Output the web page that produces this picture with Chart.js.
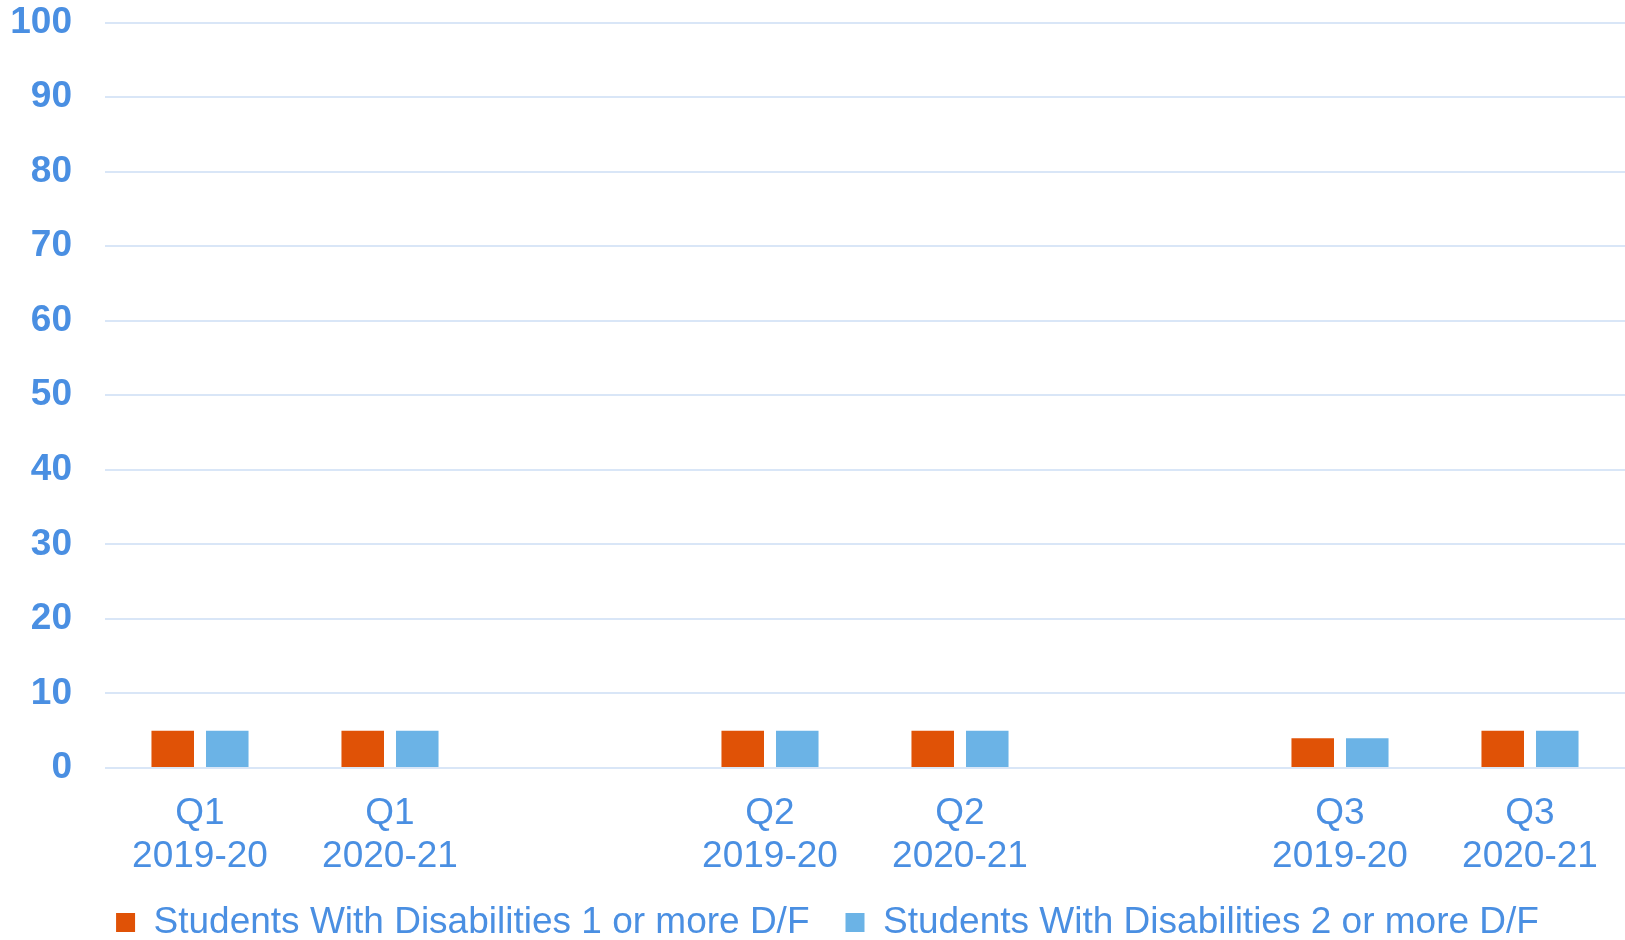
<!DOCTYPE html>
<html>
<head>
<meta charset="utf-8">
<script src="https://cdn.jsdelivr.net/npm/chart.js@4.4.1/dist/chart.umd.min.js"></script>
<style>
  html, body { margin: 0; padding: 0; background: #fff; }
  #wrap { width: 1625px; height: 940px; position: relative; }
</style>
</head>
<body>
<div id="wrap"><canvas id="barChart"></canvas></div>
<script>
// Categories (empty slots are the gaps between quarters)
const categories = [
    ["Q1", "2019-20"], ["Q1", "2020-21"], "",
    ["Q2", "2019-20"], ["Q2", "2020-21"], "",
    ["Q3", "2019-20"], ["Q3", "2020-21"]
];
const oneOrMore = [5, 5, null, 5, 5, null, 4, 5];
const twoOrMore = [5, 5, null, 5, 5, null, 4, 5];
const seriesNames = [
    "Students With Disabilities 1 or more D/F",
    "Students With Disabilities 2 or more D/F"
];

const textBlue = "#4A8FE2";
const fontFamily = "'Liberation Sans', Arial, sans-serif";

// nudge the legend into place after layout
const legendShift = {
    id: "legendShift",
    afterLayout(chart) {
        const lg = chart.legend;
        if (!lg) return;
        lg.left += 10; lg.right += 10;
        lg.top -= 12; lg.bottom -= 12;
    },
};

const ctx = document.getElementById("barChart").getContext("2d");
new Chart(ctx, {
    type: "bar",
    data: {
        labels: categories,
        datasets: [
            {
                label: seriesNames[0],
                data: oneOrMore,
                backgroundColor: "#E05206",
                categoryPercentage: 0.574,
                barPercentage: 0.78,
            },
            {
                label: seriesNames[1],
                data: twoOrMore,
                backgroundColor: "#6BB3E6",
                categoryPercentage: 0.574,
                barPercentage: 0.78,
            },
        ],
    },
    options: {
        responsive: true,
        maintainAspectRatio: false,
        animation: false,
        layout: { padding: { left: 10, right: 0, top: 0, bottom: -23 } },
        plugins: {
            tooltip: { enabled: false },
            legend: {
                position: "bottom",
                labels: {
                    color: textBlue,
                    boxWidth: 19,
                    boxHeight: 19,
                    padding: 36,
                    font: { family: fontFamily, size: 37 },
                },
            },
        },
        scales: {
            x: {
                grid: { display: false },
                border: { display: false },
                ticks: {
                    color: textBlue,
                    padding: 16,
                    maxRotation: 0,
                    autoSkip: false,
                    font: { family: fontFamily, size: 37, lineHeight: 1.17 },
                },
                afterFit: (scale) => { scale.height = 112; },
            },
            y: {
                min: 0,
                max: 100,
                border: { display: false },
                grid: { color: "#D9E6F7", lineWidth: 2, drawTicks: false },
                ticks: {
                    stepSize: 10,
                    color: textBlue,
                    padding: 33,
                    font: { family: fontFamily, size: 37, weight: "bold" },
                },
                afterFit: (scale) => {
                    scale.width = 95;
                    scale.paddingTop = 22.5;
                },
            },
        },
    },
    plugins: [legendShift],
});
</script>
</body>
</html>
